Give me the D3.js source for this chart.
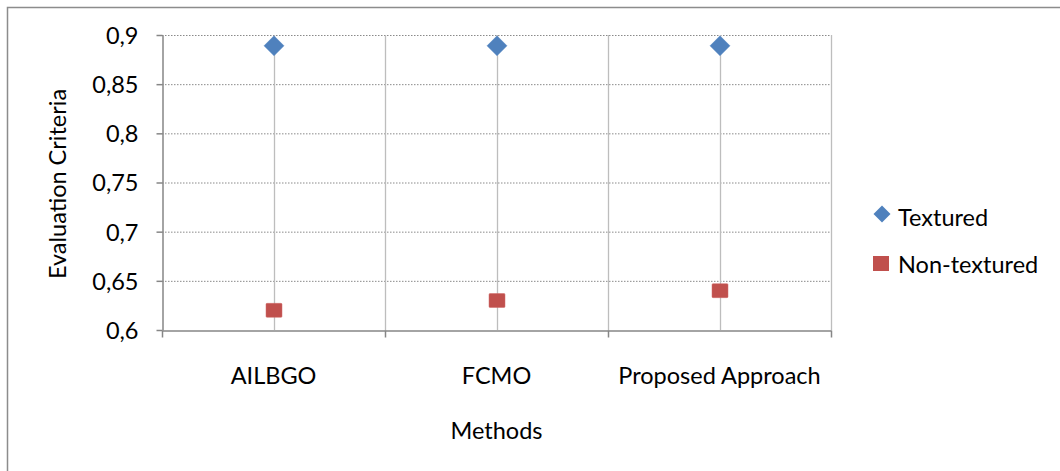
<!DOCTYPE html>
<html>
<head>
<meta charset="utf-8">
<script src="https://cdn.jsdelivr.net/npm/d3@7"></script>
<style>
  body { margin: 0; background: #fff; }
  text { font-family: "Lato", "Open Sans", sans-serif; fill: #000; }
</style>
</head>
<body>
<script>
let w = 1060;
let h = 471;

let methods = ["AILBGO", "FCMO", "Proposed Approach"];
let textured = [0.889, 0.889, 0.889];
let nonTextured = [0.62, 0.63, 0.64];
let yTicks = [0.6, 0.65, 0.7, 0.75, 0.8, 0.85, 0.9];
let seriesNames = ["Textured", "Non-textured"];

let plotLeft = 162, plotRight = 831, plotTop = 35, plotBottom = 330;
let fontSize = "23.5px";

let svg = d3.select("body").append("svg").attr("width", w).attr("height", h);

// outer frame (only top and left edges fall inside the window)
svg.append("rect")
    .attr("x", 7.5).attr("y", 7.5)
    .attr("width", w + 20).attr("height", h + 20)
    .attr("fill", "none")
    .attr("stroke", "#8c8c8c")
    .attr("stroke-width", 1.5);

let x = d3.scaleBand().domain(methods).range([plotLeft, plotRight]);
let y = d3.scaleLinear().domain([0.6, 0.9]).range([plotBottom, plotTop]);

let fmt = d => d3.format(".2~f")(d).replace(".", ",");

// horizontal dotted gridlines
svg.append("g")
    .selectAll("line")
    .data(yTicks.slice(1))
    .enter()
    .append("line")
    .attr("x1", plotLeft).attr("x2", plotRight)
    .attr("y1", d => y(d) + 0.5).attr("y2", d => y(d) + 0.5)
    .attr("stroke", "#8a8a8a")
    .attr("stroke-dasharray", "1.5,1.5");

// vertical gridlines at centers and boundaries
let vLines = [];
methods.forEach(function(m, i) {
    vLines.push(x(m) + x.bandwidth() / 2);
    vLines.push(x(m) + x.bandwidth());
});
svg.append("g")
    .selectAll("line")
    .data(vLines)
    .enter()
    .append("line")
    .attr("x1", d => Math.round(d) + 0.5).attr("x2", d => Math.round(d) + 0.5)
    .attr("y1", plotTop).attr("y2", plotBottom)
    .attr("stroke", "#bdbdbd")
    .attr("stroke-width", 1.3);

// y axis
let yAxis = d3.axisLeft(y).tickValues(yTicks).tickFormat(fmt).tickSizeInner(6).tickSizeOuter(0).tickPadding(18);
let gy = svg.append("g")
    .attr("transform", "translate(" + (plotLeft + 0.5) + ",0)")
    .call(yAxis);
gy.select(".domain").attr("stroke", "#868686").attr("stroke-width", 1.5);
gy.selectAll(".tick line").attr("stroke", "#868686").attr("stroke-width", 1.5);
gy.selectAll(".tick text").style("font-size", fontSize).attr("dy", "0.36em");

// x axis
let xAxis = d3.axisBottom(x).tickSize(0).tickPadding(37);
let gx = svg.append("g")
    .attr("transform", "translate(0," + (plotBottom + 0.5) + ")")
    .call(xAxis);
gx.select(".domain").attr("stroke", "#868686").attr("stroke-width", 1.5);
gx.selectAll(".tick text").style("font-size", fontSize);
gx.selectAll("line.bound")
    .data([plotLeft].concat(methods.map(m => x(m) + x.bandwidth())))
    .enter()
    .append("line")
    .attr("class", "bound")
    .attr("x1", d => Math.round(d) + 0.5).attr("x2", d => Math.round(d) + 0.5)
    .attr("y1", 0).attr("y2", 7)
    .attr("stroke", "#868686")
    .attr("stroke-width", 1.5);

// axis titles
svg.append("text")
    .attr("transform", "translate(66,184) rotate(-90)")
    .style("text-anchor", "middle")
    .style("font-size", fontSize)
    .text("Evaluation Criteria");

svg.append("text")
    .attr("x", (plotLeft + plotRight) / 2)
    .attr("y", 439)
    .style("text-anchor", "middle")
    .style("font-size", fontSize)
    .text("Methods");

// points
let diamond = function(cx, cy, r) {
    return "M" + cx + " " + (cy - r) + " L" + (cx + r) + " " + cy + " L" + cx + " " + (cy + r) + " L" + (cx - r) + " " + cy + " Z";
};

svg.append("g")
    .selectAll("path")
    .data(textured)
    .enter()
    .append("path")
    .attr("d", (d, i) => diamond(x(methods[i]) + x.bandwidth() / 2 + 0.5, y(d), 10))
    .attr("fill", "#4f81bd")
    .attr("stroke", "#5a8ac6")
    .attr("stroke-width", 0.5);

svg.append("g")
    .selectAll("rect")
    .data(nonTextured)
    .enter()
    .append("rect")
    .attr("x", (d, i) => x(methods[i]) + x.bandwidth() / 2 + 0.5 - 8)
    .attr("y", d => y(d) - 7)
    .attr("width", 16).attr("height", 14)
    .attr("rx", 1)
    .attr("fill", "#c0504d")
    .attr("stroke", "#d06b68")
    .attr("stroke-width", 0.5);

// legend
let legend = svg.append("g");
legend.append("path")
    .attr("d", diamond(882, 214, 8.5))
    .attr("fill", "#4f81bd");
legend.append("rect")
    .attr("x", 873).attr("y", 256)
    .attr("width", 16).attr("height", 15)
    .attr("fill", "#c0504d");
legend.selectAll("text")
    .data(seriesNames)
    .enter()
    .append("text")
    .attr("x", 898)
    .attr("y", (d, i) => 226 + i * 47)
    .style("font-size", fontSize)
    .text(d => d);
</script>
</body>
</html>
